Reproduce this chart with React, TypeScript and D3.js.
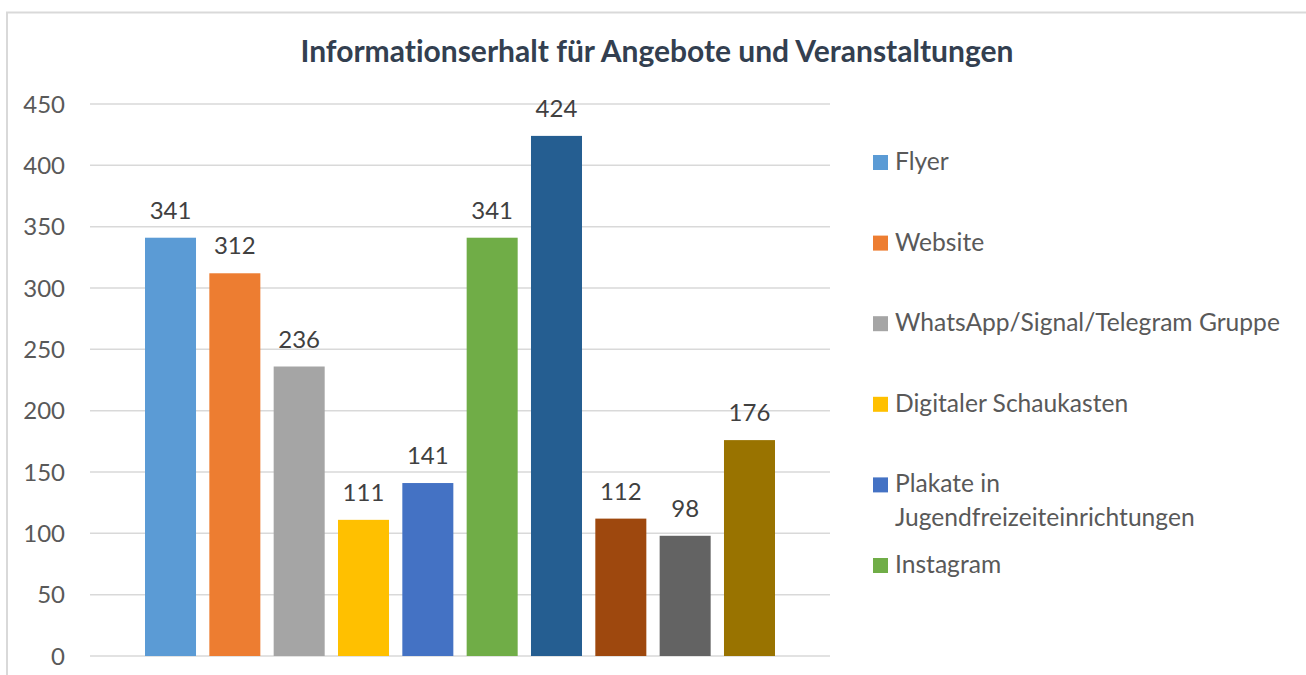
import React from 'react';
import * as d3 from 'd3';

const TITLE = 'Informationserhalt für Angebote und Veranstaltungen';

// Serien (nur die ersten sechs stehen in der Legende)
const SERIES = [
  'Flyer',
  'Website',
  'WhatsApp/Signal/Telegram Gruppe',
  'Digitaler Schaukasten',
  'Plakate in Jugendfreizeiteinrichtungen',
  'Instagram',
  'Serie 7',
  'Serie 8',
  'Serie 9',
  'Serie 10',
];
const VALUES = [341, 312, 236, 111, 141, 341, 424, 112, 98, 176];
const COLORS = [
  '#5b9bd5', '#ed7d31', '#a5a5a5', '#ffc000', '#4472c4',
  '#70ad47', '#255e91', '#9e480e', '#636363', '#997300',
];
const Y_TICKS = [0, 50, 100, 150, 200, 250, 300, 350, 400, 450];
const LEGEND_SHOWN = 6;
const LEGEND_LINES: Record<string, string[]> = {
  'Plakate in Jugendfreizeiteinrichtungen': ['Plakate in', 'Jugendfreizeiteinrichtungen'],
};

const W = 1306;
const H = 675;
const FONT = 'Lato, "Open Sans", sans-serif';
const noLig = { fontVariantLigatures: 'none' } as React.CSSProperties;

export default function App() {
  const plot = { left: 90, right: 830, top: 104, bottom: 656 };

  const y = d3.scaleLinear().domain([0, 450]).range([plot.bottom, plot.top]);
  const x = d3.scaleBand<string>()
    .domain(SERIES)
    .range([plot.left, plot.right])
    .paddingInner(0.207)
    .paddingOuter(0.855);

  const legendX = 873;
  const legendY = d3.scaleLinear().domain([0, LEGEND_SHOWN - 1]).range([155, 558]);

  return (
    <svg width={W} height={H} style={{ position: 'absolute', left: 0, top: 0, background: '#fff' }}>
      {/* Rahmen */}
      <rect x={7} y={12.5} width={W + 10} height={H + 10} fill="#fff" stroke="#d9d9d9" strokeWidth={2} />

      <text x={657} y={62} textAnchor="middle" fontFamily={FONT} fontWeight="bold" fontSize={30} fill="#333f50" style={noLig}>
        {TITLE}
      </text>

      {/* Gitter + Achse */}
      {Y_TICKS.map(t => (
        <g key={t}>
          <line x1={plot.left} x2={plot.right} y1={y(t)} y2={y(t)} stroke="#d9d9d9" strokeWidth={1.5} />
          <text x={65} y={y(t)} dy="0.36em" textAnchor="end" fontFamily={FONT} fontSize={24} fill="#595959">
            {t}
          </text>
        </g>
      ))}

      {/* Balken */}
      {SERIES.map((s, i) => (
        <g key={s}>
          <rect x={x(s)} y={y(VALUES[i])} width={x.bandwidth()} height={y(0) - y(VALUES[i])} fill={COLORS[i]} />
          <text
            x={(x(s) as number) + x.bandwidth() / 2}
            y={y(VALUES[i]) - 19}
            textAnchor="middle"
            fontFamily={FONT}
            fontSize={24}
            fill="#404040"
          >
            {VALUES[i]}
          </text>
        </g>
      ))}

      {/* Legende */}
      {SERIES.slice(0, LEGEND_SHOWN).map((s, i) => {
        const lines = LEGEND_LINES[s] || [s];
        const top = legendY(i);
        return (
          <g key={s}>
            <rect x={legendX} y={top} width={15} height={15} fill={COLORS[i]} />
            <text x={895} y={top + 15} fontFamily={FONT} fontSize={24.6} fill="#595959" style={noLig}>
              {lines.map((l, j) => (
                <tspan key={j} x={895} dy={j === 0 ? 0 : 34}>{l}</tspan>
              ))}
            </text>
          </g>
        );
      })}
    </svg>
  );
}
